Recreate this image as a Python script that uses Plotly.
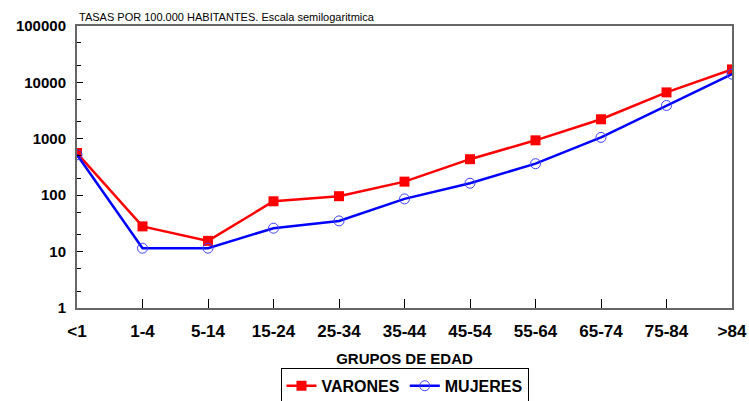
import plotly.graph_objects as go

categorias = ["<1", "1-4", "5-14", "15-24", "25-34", "35-44", "45-54", "55-64", "65-74", "75-84", ">84"]
varones = [560, 28, 15.5, 78, 96, 174, 435, 940, 2220, 6650, 17000]
mujeres = [520, 11.5, 11.5, 26, 35, 86, 163, 362, 1060, 3900, 14000]
y_ticks = [1, 10, 100, 1000, 10000, 100000]

fig = go.Figure()
fig.add_trace(go.Scatter(
    x=list(range(len(categorias))), y=varones, name="<b>VARONES</b>", mode="lines+markers",
    line=dict(color="#ff0000", width=2.5),
    marker=dict(symbol="square", size=10, color="#ff0000"),
))
fig.add_trace(go.Scatter(
    x=list(range(len(categorias))), y=mujeres, name="<b>MUJERES</b>", mode="lines+markers",
    line=dict(color="#0000ff", width=2.5),
    marker=dict(symbol="circle-open", size=10, color="#4040ff", line=dict(width=1)),
))

fig.update_layout(
    width=749, height=401,
    margin=dict(l=77, r=17, t=26, b=93, autoexpand=False),
    plot_bgcolor="white", paper_bgcolor="white",
    font=dict(family="Liberation Sans, Arial", color="black"),
    showlegend=True,
    legend=dict(
        orientation="h", x=0.5, xanchor="center", y=-0.276, yanchor="middle",
        bordercolor="black", borderwidth=1, bgcolor="white",
        font=dict(size=16, family="Liberation Sans, Arial"),
        itemwidth=30, tracegroupgap=0,
    ),
    annotations=[dict(
        text="TASAS POR 100.000 HABITANTES. Escala semilogaritmica",
        x=0, xref="paper", y=1, yref="paper", xanchor="left", yanchor="bottom",
        yshift=1, showarrow=False, font=dict(size=11, family="Liberation Sans, Arial"),
    )],
)
fig.update_xaxes(
    range=[0, len(categorias) - 1], automargin=False,
    tickvals=list(range(len(categorias))), ticktext=["<b>%s</b>" % c.replace("<", "&lt;").replace(">", "&gt;") for c in categorias],
    ticks="inside", ticklen=9, tickwidth=1, tickcolor="black",
    ticklabelstandoff=7,
    showline=True, linecolor="#666666", linewidth=2, mirror=True,
    showgrid=False, zeroline=False,
    tickfont=dict(size=17, family="Liberation Sans, Arial"),
    title=dict(text="<b>GRUPOS DE EDAD</b>", font=dict(size=15), standoff=13),
)
fig.update_yaxes(
    type="log", range=[0, 5], automargin=False,
    tickvals=y_ticks, ticktext=["<b>%d</b>" % v for v in y_ticks],
    ticks="inside", ticklen=6, tickwidth=1, tickcolor="black",
    ticklabelstandoff=6,
    minor=dict(ticks="inside", ticklen=4, tickcolor="black", showgrid=False),
    showline=True, linecolor="#666666", linewidth=2, mirror=True,
    showgrid=False, zeroline=False,
    tickfont=dict(size=15, family="Liberation Sans, Arial"),
)
fig.write_html("out.html", config={"displayModeBar": False},
               post_script="document.body.style.margin='0';")
